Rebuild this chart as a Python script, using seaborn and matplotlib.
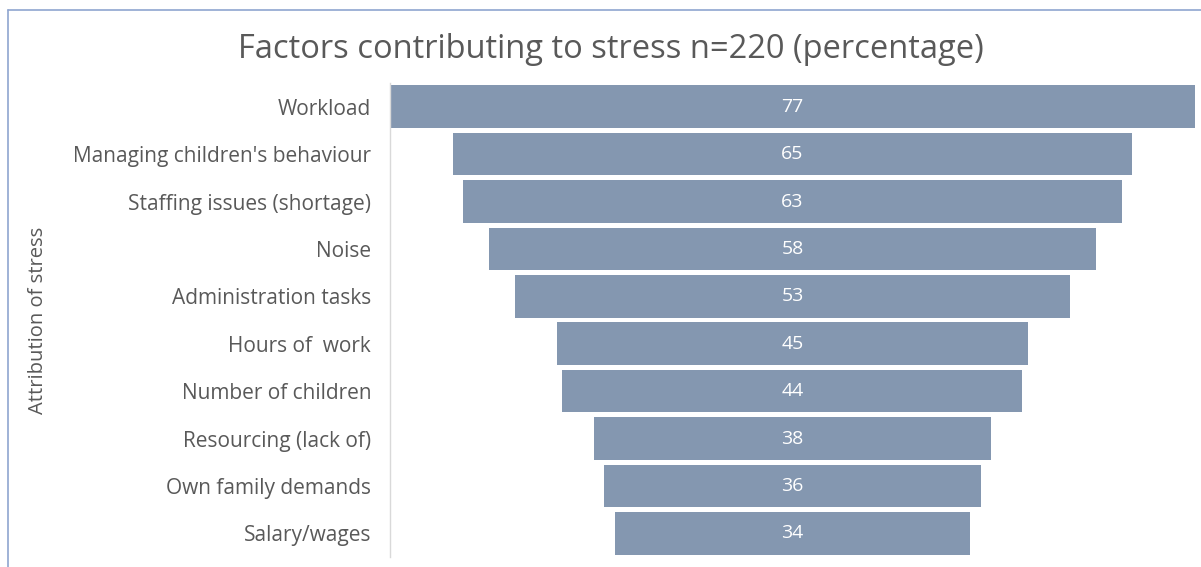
import matplotlib
matplotlib.use("Agg")
import matplotlib.pyplot as plt
from matplotlib.lines import Line2D
import seaborn as sns
import pandas as pd

factors = [
    "Workload",
    "Managing children's behaviour",
    "Staffing issues (shortage)",
    "Noise",
    "Administration tasks",
    "Hours of  work",
    "Number of children",
    "Resourcing (lack of)",
    "Own family demands",
    "Salary/wages",
]
percentages = [77, 65, 63, 58, 53, 45, 44, 38, 36, 34]

df = pd.DataFrame({"factor": factors, "pct": percentages})

sns.set_theme(style="white")
plt.rcParams["font.family"] = ["Open Sans", "DejaVu Sans"]

fig = plt.figure(figsize=(12.01, 5.67), dpi=100)
ax = fig.add_axes([0.3247, 0.0176, 0.6703, 0.836])

sns.barplot(data=df, x="pct", y="factor", orient="h", color="#8497B0",
            saturation=1, width=0.9, ax=ax)

# Centre each bar on the widest one to form a funnel
vmax = max(percentages)
for patch in ax.patches:
    w = patch.get_width()
    patch.set_x((vmax - w) / 2)
    patch.set_edgecolor("none")

ax.bar_label(ax.containers[0], labels=[str(v) for v in percentages],
             label_type="center", color="white", fontsize=14)

ax.set_xlim(0, vmax)
ax.set_ylim(len(factors) - 0.5, -0.5)
ax.set_xticks([])
ax.set_xlabel("")
ax.set_ylabel("Attribution of stress", fontsize=14.5, color="#595959")
ax.yaxis.set_label_coords(-0.425, 0.5)
ax.tick_params(axis="y", length=0, pad=13.5, labelsize=15, labelcolor="#595959")

for side in ["top", "right", "bottom"]:
    ax.spines[side].set_visible(False)
ax.spines["left"].set_color("#D9D9D9")
ax.spines["left"].set_linewidth(1)

fig.text(0.509, 0.912, "Factors contributing to stress n=220 (percentage)",
         ha="center", va="center", fontsize=23.5, color="#595959")

# Chart-area border
fig.add_artist(Line2D([8 / 1201, 8 / 1201], [0, 1 - 10 / 567],
                      transform=fig.transFigure, color="#8FA5D0", lw=1.2))
fig.add_artist(Line2D([8 / 1201, 1], [1 - 10 / 567, 1 - 10 / 567],
                      transform=fig.transFigure, color="#8FA5D0", lw=1.2))

fig.savefig("out.png", dpi=100, facecolor="white")
